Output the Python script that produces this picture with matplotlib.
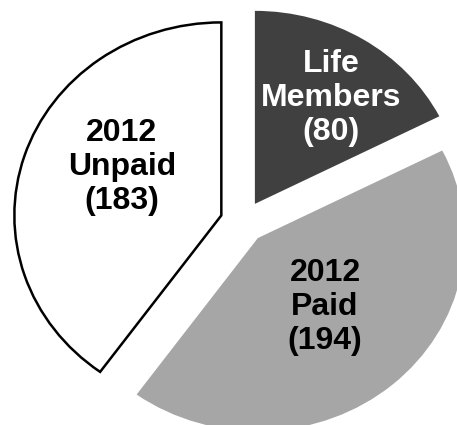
import matplotlib.pyplot as plt

# membres par categorie
categories = ["Life\nMembers", "2012\nPaid", "2012\nUnpaid"]
counts = [80, 194, 183]

colors = ["#404040", "#a6a6a6", "#ffffff"]
text_colors = ["white", "black", "black"]
# position des etiquettes (coord. donnees)
label_pos = [(0.425, 0.642), (0.396, -0.440), (-0.585, 0.285)]

fig = plt.figure(figsize=(4.57, 4.25), dpi=100)
ax = fig.add_axes([0, 0, 1, 1])

wedges, _ = ax.pie(
    counts,
    colors=colors,
    startangle=90,
    counterclock=False,
    explode=[0.11, 0.11, 0.11],
    radius=1,
)
wedges[2].set_edgecolor("black")
wedges[2].set_linewidth(1.8)

for cat, n, pos, tc in zip(categories, counts, label_pos, text_colors):
    ax.text(
        pos[0], pos[1], "%s\n(%d)" % (cat, n),
        ha="center", va="center", color=tc,
        fontsize=23, fontweight="bold", family="Liberation Sans",
        linespacing=1.16,
    )

ax.set_aspect("auto")
ax.set_xlim(-1.174, 1.034)
ax.set_ylim(-1.052, 1.150)
ax.axis("off")

fig.savefig("out.png", dpi=100)
